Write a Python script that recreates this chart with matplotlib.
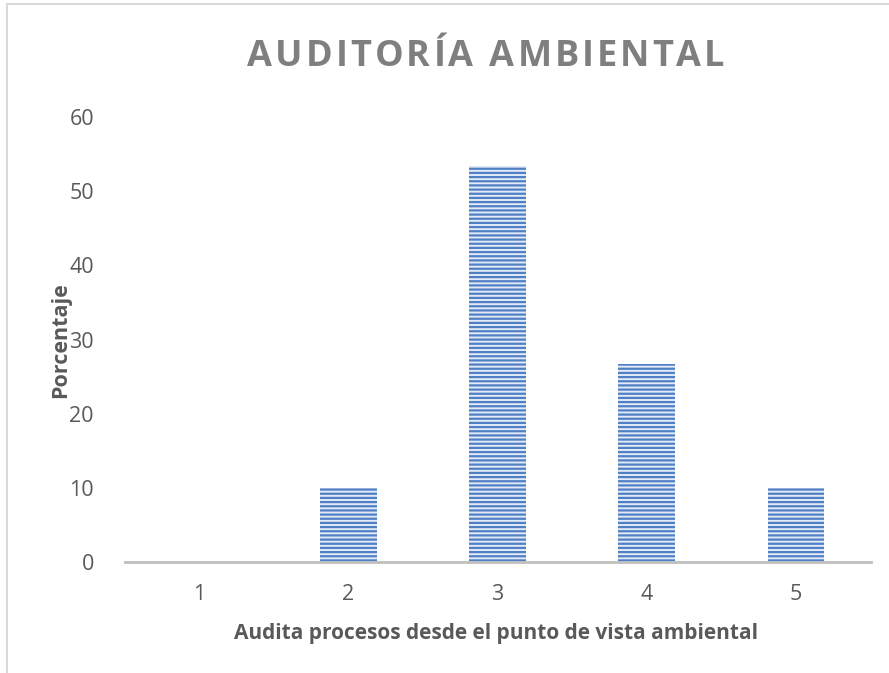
import matplotlib
matplotlib.use("Agg")
import matplotlib.pyplot as plt
from matplotlib.patches import Rectangle

categories = [1, 2, 3, 4, 5]
porcentaje = [0, 10, 53.33, 26.67, 10]
yticks = [0, 10, 20, 30, 40, 50, 60]

title = "AUDITORÍA AMBIENTAL"
xlabel = "Audita procesos desde el punto de vista ambiental"
ylabel = "Porcentaje"

plt.rcParams['font.family'] = ['Open Sans', 'DejaVu Sans']
plt.rcParams['hatch.linewidth'] = 1.6

W, H = 889, 673
fig = plt.figure(figsize=(W / 100, H / 100), dpi=100)
ax = fig.add_axes([124.5 / W, 1 - 562 / H, (870.5 - 124.5) / W, (562 - 117) / H])

ax.bar(categories, porcentaje, width=0.38, facecolor='#e3ebf7',
       edgecolor='#4f7fc4', hatch='----', linewidth=0)

ax.set_xlim(0.5, 5.5)
ax.set_ylim(0, 60)
ax.set_xticks(categories)
ax.set_yticks(yticks)
ax.tick_params(axis='both', length=0, colors='#595959', labelsize=15.5)
ax.tick_params(axis='x', pad=16)
ax.tick_params(axis='y', pad=22)
for s in ['top', 'right', 'left']:
    ax.spines[s].set_visible(False)
ax.spines['bottom'].set_color('#bfbfbf')
ax.spines['bottom'].set_linewidth(2)

# Title drawn letter by letter with extra tracking
renderer = fig.canvas.get_renderer()
tracking = 3.0
title_kw = dict(fontsize=26, fontweight='bold', color='#7f7f7f', va='center', ha='left')
widths = []
for ch in title:
    t = fig.text(0, 0, ch if ch != ' ' else 'n', **title_kw)
    w = t.get_window_extent(renderer).width
    widths.append(w * 0.45 if ch == ' ' else w)
    t.remove()
total = sum(widths) + tracking * (len(title) - 1)
x = 486 - total / 2
for ch, w in zip(title, widths):
    if ch != ' ':
        fig.text(x / W, 1 - 57 / H, ch, **title_kw)
    x += w + tracking

fig.text(496 / W, 1 - 633 / H, xlabel, ha='center', va='center',
         fontsize=15, fontweight='bold', color='#595959')
fig.text(61 / W, 1 - 340 / H, ylabel, ha='center', va='center', rotation=90,
         fontsize=15.5, fontweight='bold', color='#595959')

fig.patches.append(Rectangle((6.5 / W, -0.1), 1.0, 1 - 4.5 / H + 0.1,
                             transform=fig.transFigure, fill=False,
                             edgecolor='#d9d9d9', linewidth=1.5))

fig.savefig("out.png", dpi=100)
